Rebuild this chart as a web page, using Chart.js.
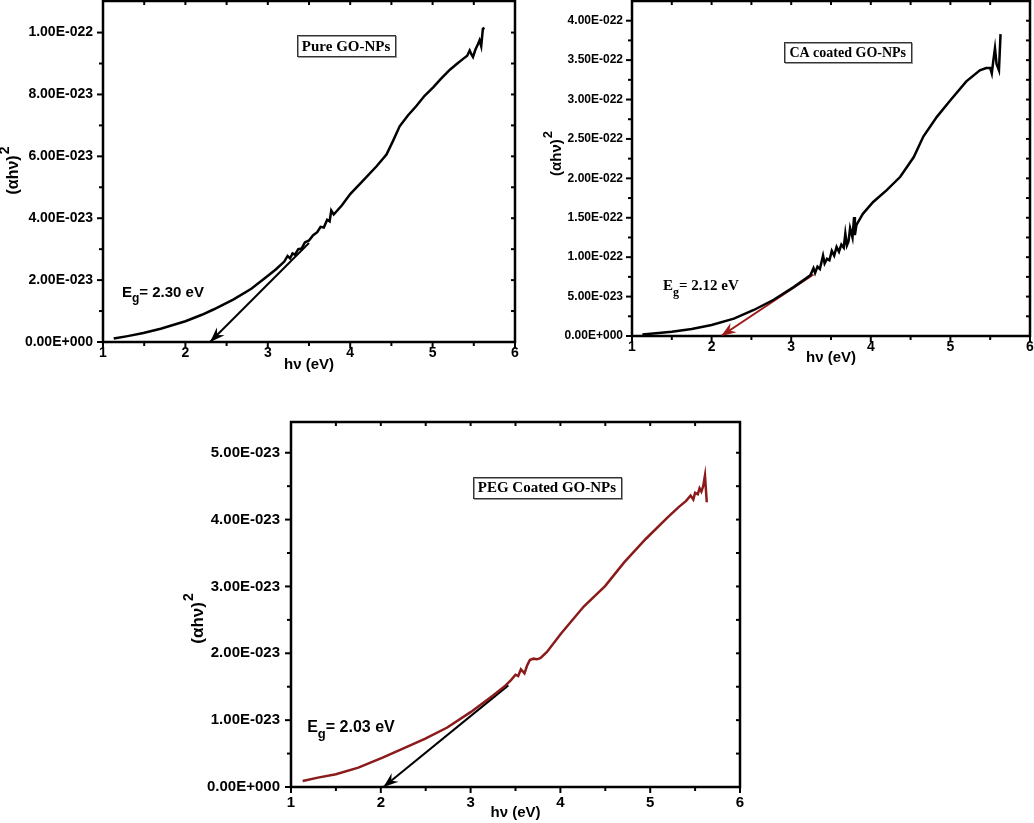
<!DOCTYPE html>
<html>
<head>
<meta charset="utf-8">
<script src="https://cdn.jsdelivr.net/npm/chart.js@4"></script>
<style>
  body { margin: 0; background: #fff; }
  #wrap { position: relative; width: 1034px; height: 823px; overflow: hidden; }
  canvas { position: absolute; }
</style>
</head>
<body>
<div id="wrap">
  <canvas id="pureChart" width="530" height="378" style="left:0px;top:0px"></canvas>
  <canvas id="caChart" width="504" height="375" style="left:530px;top:0px"></canvas>
  <canvas id="pegChart" width="570" height="423" style="left:180px;top:400px"></canvas>
</div>
<script>
// --- Data (y values) ---
const xTicks = [1, 2, 3, 4, 5, 6];
const xMinor = [1.5, 2.5, 3.5, 4.5, 5.5];

// Pure GO-NPs, y in units of 1e-23
const pureX = [1.13, 1.3, 1.49, 1.7, 2.0, 2.2, 2.34, 2.58, 2.8, 2.99, 3.1, 3.2, 3.24, 3.27, 3.3, 3.33, 3.37, 3.41, 3.45, 3.5, 3.55, 3.6, 3.64, 3.68, 3.72, 3.75, 3.77, 3.8, 3.9, 4.0, 4.15, 4.32, 4.44, 4.52, 4.6, 4.7, 4.8, 4.9, 5.01, 5.1, 5.21, 5.3, 5.37, 5.42, 5.45, 5.47, 5.49, 5.52, 5.55, 5.57, 5.59, 5.61, 5.63];
const pureY = [0.11, 0.19, 0.29, 0.43, 0.67, 0.88, 1.05, 1.37, 1.72, 2.12, 2.35, 2.6, 2.78, 2.70, 2.86, 2.82, 3.0, 3.02, 3.22, 3.28, 3.45, 3.55, 3.72, 3.70, 3.95, 3.90, 4.25, 4.12, 4.42, 4.78, 5.2, 5.68, 6.06, 6.5, 6.97, 7.32, 7.62, 7.95, 8.24, 8.5, 8.8, 9.0, 9.15, 9.25, 9.42, 9.30, 9.21, 9.45, 9.62, 9.75, 9.56, 10.12, 10.15];
const pureTanX = [3.5, 2.30];
const pureTanY = [3.2, 0];
const pureYTicks = [0, 2, 4, 6, 8, 10];
const pureYMinor = [1, 3, 5, 7, 9];

// CA coated GO-NPs, y in units of 1e-22
const caX = [1.13, 1.3, 1.5, 1.75, 2.0, 2.28, 2.53, 2.78, 3.03, 3.24, 3.28, 3.30, 3.33, 3.36, 3.40, 3.42, 3.45, 3.48, 3.51, 3.54, 3.57, 3.60, 3.63, 3.66, 3.68, 3.70, 3.72, 3.74, 3.77, 3.79, 3.80, 3.82, 3.9, 4.03, 4.2, 4.37, 4.54, 4.66, 4.83, 5.0, 5.2, 5.37, 5.45, 5.50, 5.52, 5.54, 5.56, 5.58, 5.61, 5.63];
const caY = [0.02, 0.035, 0.055, 0.09, 0.14, 0.22, 0.33, 0.46, 0.62, 0.77, 0.86, 0.80, 0.88, 0.85, 1.02, 0.92, 0.98, 0.96, 1.08, 1.02, 1.13, 1.07, 1.16, 1.12, 1.30, 1.15, 1.20, 1.37, 1.25, 1.51, 1.28, 1.41, 1.55, 1.70, 1.85, 2.02, 2.27, 2.53, 2.78, 2.99, 3.23, 3.37, 3.40, 3.40, 3.33, 3.50, 3.65, 3.45, 3.37, 3.83];
const caTanX = [3.28, 2.12];
const caTanY = [0.78, 0];
const caYTicks = [0, 0.5, 1, 1.5, 2, 2.5, 3, 3.5, 4];
const caYMinor = [0.25, 0.75, 1.25, 1.75, 2.25, 2.75, 3.25, 3.75];

// PEG coated GO-NPs, y in units of 1e-23
const pegX = [1.13, 1.3, 1.5, 1.75, 2.02, 2.24, 2.49, 2.74, 3.0, 3.25, 3.39, 3.45, 3.5, 3.53, 3.56, 3.6, 3.63, 3.66, 3.7, 3.74, 3.78, 3.85, 4.01, 4.26, 4.5, 4.71, 4.95, 5.2, 5.32, 5.4, 5.45, 5.48, 5.5, 5.53, 5.55, 5.57, 5.59, 5.61, 5.63];
const pegY = [0.09, 0.14, 0.19, 0.29, 0.44, 0.57, 0.72, 0.89, 1.12, 1.37, 1.52, 1.6, 1.68, 1.66, 1.76, 1.70, 1.82, 1.90, 1.92, 1.91, 1.93, 2.02, 2.30, 2.70, 3.01, 3.36, 3.71, 4.04, 4.19, 4.28, 4.36, 4.30, 4.40, 4.38, 4.47, 4.42, 4.50, 4.66, 4.26];
const pegTanX = [3.42, 2.03];
const pegTanY = [1.52, 0];
const pegYTicks = [0, 1, 2, 3, 4, 5];
const pegYMinor = [0.5, 1.5, 2.5, 3.5, 4.5];

const SANS = "'Liberation Sans', Arial, sans-serif";
const SERIF = "'Liberation Serif', 'Times New Roman', serif";

// 2e-23 -> "2.00E-023"
function sci(v) {
    if (Math.abs(v) < 1e-40) return '0.00E+000';
    let e = Math.floor(Math.log10(Math.abs(v)) + 1e-9);
    let m = v / Math.pow(10, e);
    if (Math.round(m * 100) >= 1000) { m /= 10; e += 1; }
    return m.toFixed(2) + 'E' + (e < 0 ? '-' : '+') + String(Math.abs(e)).padStart(3, '0');
}

const toPts = (xs, ys) => xs.map((x, i) => ({ x: x, y: ys[i] }));

// --- frame, ticks, y title, labels, arrow head ---
const panelPlugin = {
    id: 'panel',
    afterDraw(chart, args, o) {
        const ctx = chart.ctx;
        const a = chart.chartArea;
        const sx = chart.scales.x, sy = chart.scales.y;
        ctx.save();
        ctx.strokeStyle = '#000';
        ctx.lineWidth = 2;
        const tick = (x1, y1, x2, y2) => { ctx.beginPath(); ctx.moveTo(x1, y1); ctx.lineTo(x2, y2); ctx.stroke(); };
        o.xTicks.forEach(v => { const p = sx.getPixelForValue(v); tick(p, a.bottom, p, a.bottom + 6); tick(p, a.top, p, a.top + 4); });
        o.xMinor.forEach(v => { const p = sx.getPixelForValue(v); tick(p, a.bottom, p, a.bottom + 4); tick(p, a.top, p, a.top + 4); });
        o.yTicks.forEach(v => { const p = sy.getPixelForValue(v); tick(a.left, p, a.left - 6, p); tick(a.right, p, a.right - 4, p); });
        o.yMinor.forEach(v => { const p = sy.getPixelForValue(v); tick(a.left, p, a.left - 4, p); tick(a.right, p, a.right - 4, p); });
        ctx.lineWidth = 2.5;
        ctx.strokeRect(a.left, a.top, a.right - a.left, a.bottom - a.top);

        // arrow head at the end of the tangent line
        const tan = chart.data.datasets[1].data;
        const p0 = { x: sx.getPixelForValue(tan[0].x), y: sy.getPixelForValue(tan[0].y) };
        const p1 = { x: sx.getPixelForValue(tan[1].x), y: sy.getPixelForValue(tan[1].y) };
        const ang = Math.atan2(p1.y - p0.y, p1.x - p0.x);
        ctx.translate(p1.x, p1.y);
        ctx.rotate(ang);
        ctx.fillStyle = o.arrowColor;
        ctx.beginPath();
        ctx.moveTo(0, 0);
        ctx.lineTo(-15, -5.5);
        ctx.lineTo(-10, 0);
        ctx.lineTo(-15, 5.5);
        ctx.closePath();
        ctx.fill();
        ctx.setTransform(1, 0, 0, 1, 0, 0);

        // y title with superscript
        ctx.fillStyle = '#000';
        ctx.translate(o.yTitle.x, o.yTitle.y);
        ctx.rotate(-Math.PI / 2);
        ctx.textBaseline = 'middle';
        ctx.textAlign = 'left';
        const fMain = 'bold ' + o.yTitle.size + 'px ' + SANS;
        const fSup = 'bold ' + Math.round(o.yTitle.size * 0.85) + 'px ' + SANS;
        ctx.font = fMain;
        const w1 = ctx.measureText('(αhν)').width;
        ctx.font = fSup;
        const w2 = ctx.measureText('2').width;
        ctx.font = fMain;
        ctx.fillText('(αhν)', -(w1 + w2) / 2, 0);
        ctx.font = fSup;
        ctx.fillText('2', -(w1 + w2) / 2 + w1 + 1, -o.yTitle.size * 0.55);
        ctx.setTransform(1, 0, 0, 1, 0, 0);

        // Eg label
        const eg = o.eg;
        let ex = sx.getPixelForValue(eg.x), ey = sy.getPixelForValue(eg.y);
        ctx.textBaseline = 'alphabetic';
        ctx.font = 'bold ' + eg.size + 'px ' + eg.family;
        ctx.fillText('E', ex, ey);
        ex += ctx.measureText('E').width;
        ctx.font = 'bold ' + Math.round(eg.size * 0.8) + 'px ' + eg.family;
        ctx.fillText('g', ex, ey + eg.size * 0.35);
        ex += ctx.measureText('g').width;
        ctx.font = 'bold ' + eg.size + 'px ' + eg.family;
        ctx.fillText(eg.text, ex, ey);

        // sample name box
        const b = o.box;
        const bx = sx.getPixelForValue(b.x), by = sy.getPixelForValue(b.y);
        ctx.font = 'bold ' + b.size + 'px ' + SERIF;
        const tw = ctx.measureText(b.text).width;
        const bw = tw + 10, bh = b.size + 6;
        ctx.fillStyle = '#fff';
        ctx.fillRect(bx - bw / 2, by - bh / 2, bw, bh);
        ctx.lineWidth = 1;
        ctx.strokeStyle = '#999';
        ctx.strokeRect(Math.round(bx - bw / 2) + 1.5, Math.round(by - bh / 2) + 1.5, Math.round(bw), Math.round(bh));
        ctx.strokeStyle = '#333';
        ctx.strokeRect(Math.round(bx - bw / 2) + 0.5, Math.round(by - bh / 2) + 0.5, Math.round(bw), Math.round(bh));
        ctx.fillStyle = '#000';
        ctx.textAlign = 'center';
        ctx.textBaseline = 'middle';
        ctx.fillText(b.text, bx, by + 1);
        ctx.restore();
    }
};

function buildChart(id, c) {
    return new Chart(document.getElementById(id), {
        type: 'scatter',
        data: {
            datasets: [
                { data: toPts(c.xs, c.ys), showLine: true, borderColor: c.color, borderWidth: 2.5, pointRadius: 0, tension: 0 },
                { data: toPts(c.tanX, c.tanY), showLine: true, borderColor: c.arrowColor, borderWidth: 2, pointRadius: 0 }
            ]
        },
        options: {
            animation: false,
            responsive: false,
            layout: { padding: c.pad },
            plugins: {
                legend: { display: false },
                tooltip: { enabled: false },
                panel: {
                    xTicks: xTicks, xMinor: xMinor, yTicks: c.yTicks, yMinor: c.yMinor,
                    arrowColor: c.arrowColor, yTitle: c.yTitle, eg: c.eg, box: c.box
                }
            },
            scales: {
                x: {
                    type: 'linear', min: 1, max: 6,
                    afterBuildTicks: s => { s.ticks = xTicks.map(v => ({ value: v })); },
                    afterFit: s => { s.height = c.xH; s.paddingLeft = 0; s.paddingRight = 0; },
                    grid: { display: false, drawTicks: false },
                    border: { display: false },
                    ticks: { color: '#000', font: { family: SANS, size: c.xFont, weight: 'bold' }, padding: c.xPad, maxRotation: 0, autoSkip: false },
                    title: { display: true, text: 'hν (eV)', color: '#000', font: { family: SANS, size: c.xTitleFont, weight: 'bold' }, padding: { top: 0, bottom: c.xTitlePad } }
                },
                y: {
                    type: 'linear', min: 0, max: c.yMax,
                    afterBuildTicks: s => { s.ticks = c.yTicks.map(v => ({ value: v })); },
                    afterFit: s => { s.width = c.yW; s.paddingTop = 0; s.paddingBottom = 0; },
                    grid: { display: false, drawTicks: false },
                    border: { display: false },
                    ticks: { color: '#000', font: { family: SANS, size: c.yFont, weight: 'bold' }, padding: c.yPad, callback: v => sci(v * c.unit), autoSkip: false }
                }
            }
        },
        plugins: [panelPlugin]
    });
}

buildChart('pureChart', {
    xs: pureX, ys: pureY, tanX: pureTanX, tanY: pureTanY, yTicks: pureYTicks, yMinor: pureYMinor,
    unit: 1e-23, yMax: 11.02, color: '#000', arrowColor: '#000',
    pad: { left: 0, top: 1, right: 15, bottom: 0 }, yW: 103, xH: 36,
    xFont: 14, xPad: 3, xTitleFont: 15, xTitlePad: 4, yFont: 14, yPad: 10,
    yTitle: { x: 14, y: 171, size: 16 },
    eg: { x: 1.23, y: 1.45, text: '= 2.30 eV', size: 15, family: SANS },
    box: { x: 3.95, y: 9.57, text: 'Pure GO-NPs', size: 15 }
});

buildChart('caChart', {
    xs: caX, ys: caY, tanX: caTanX, tanY: caTanY, yTicks: caYTicks, yMinor: caYMinor,
    unit: 1e-22, yMax: 4.25, color: '#000', arrowColor: '#9e1b1b',
    pad: { left: 0, top: 1, right: 4, bottom: 0 }, yW: 102, xH: 39,
    xFont: 14, xPad: 3, xTitleFont: 15, xTitlePad: 8, yFont: 12, yPad: 9,
    yTitle: { x: 27, y: 154, size: 15 },
    eg: { x: 1.39, y: 0.58, text: '= 2.12 eV', size: 15, family: SERIF },
    box: { x: 3.71, y: 3.60, text: 'CA coated GO-NPs', size: 14 }
});

buildChart('pegChart', {
    xs: pegX, ys: pegY, tanX: pegTanX, tanY: pegTanY, yTicks: pegYTicks, yMinor: pegYMinor,
    unit: 1e-23, yMax: 5.46, color: '#8b1a1a', arrowColor: '#000',
    pad: { left: 0, top: 22, right: 10, bottom: 0 }, yW: 111, xH: 36,
    xFont: 15, xPad: 7, xTitleFont: 15, xTitlePad: 1, yFont: 15, yPad: 11,
    yTitle: { x: 18, y: 219, size: 17 },
    eg: { x: 1.18, y: 0.82, text: '= 2.03 eV', size: 16, family: SANS },
    box: { x: 3.85, y: 4.48, text: 'PEG Coated GO-NPs', size: 15 }
});
</script>
</body>
</html>
